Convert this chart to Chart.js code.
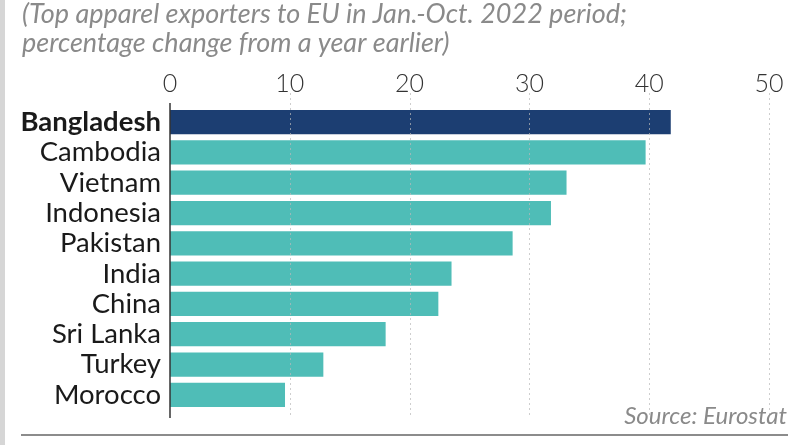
<!DOCTYPE html>
<html>
<head>
<meta charset="utf-8">
<script src="https://cdn.jsdelivr.net/npm/chart.js@4/dist/chart.umd.min.js"></script>
<style>
  html, body { margin: 0; padding: 0; background: #fff; }
  canvas { display: block; }
</style>
</head>
<body>
<canvas id="apparel-chart" width="803" height="445"></canvas>
<script>
// data
const countries = ['Bangladesh', 'Cambodia', 'Vietnam', 'Indonesia', 'Pakistan', 'India', 'China', 'Sri Lanka', 'Turkey', 'Morocco'];
const changePct = [41.8, 39.7, 33.1, 31.8, 28.6, 23.5, 22.4, 18.0, 12.8, 9.6];
const xTicks = [0, 10, 20, 30, 40, 50];
const titleLines = ['(Top apparel exporters to EU in Jan.-Oct. 2022 period;', 'percentage change from a year earlier)'];
const sourceText = 'Source: Eurostat';

const NAVY = '#1c3e72';
const TEAL = '#4fbdb7';
const FONT = 'Lato, "Open Sans", sans-serif';

// gridlines, axis line, source and rule
const decor = {
  id: 'decor',
  beforeDraw(chart) {
    const c = chart.ctx;
    c.save();
    c.fillStyle = '#fff';
    c.fillRect(0, 0, chart.width, chart.height);
    c.fillStyle = '#d6d6d6';
    c.fillRect(0, 0, 5, chart.height);
    c.restore();
  },
  afterDatasetsDraw(chart) {
    const c = chart.ctx;
    const x = chart.scales.x;
    c.save();
    c.strokeStyle = 'rgba(185,185,185,0.7)';
    c.lineWidth = 1;
    c.setLineDash([2, 3]);
    xTicks.forEach(v => {
      if (v === 0) return;
      const px = Math.round(x.getPixelForValue(v)) + 0.5;
      c.beginPath();
      c.moveTo(px, 93);
      c.lineTo(px, 418);
      c.stroke();
    });
    c.setLineDash([]);
    c.strokeStyle = '#333';
    c.lineWidth = 1.5;
    const x0 = x.getPixelForValue(0);
    c.beginPath();
    c.moveTo(x0, 103);
    c.lineTo(x0, 418);
    c.stroke();

    c.fillStyle = '#8a8a8a';
    c.font = 'italic 24px ' + FONT;
    c.textAlign = 'right';
    c.textBaseline = 'middle';
    c.fillText(sourceText, 787, 416);

    c.strokeStyle = '#666';
    c.lineWidth = 1.5;
    c.beginPath();
    c.moveTo(21, 435);
    c.lineTo(788, 435);
    c.stroke();
    c.restore();
  }
};

new Chart(document.getElementById('apparel-chart'), {
  type: 'bar',
  data: {
    labels: countries,
    datasets: [{
      data: changePct,
      backgroundColor: countries.map((_, i) => i === 0 ? NAVY : TEAL),
      borderWidth: 0,
      barPercentage: 0.8,
      categoryPercentage: 1
    }]
  },
  options: {
    indexAxis: 'y',
    responsive: false,
    animation: false,
    layout: { padding: { left: 22, right: 34, top: 0, bottom: 35 } },
    plugins: {
      legend: { display: false },
      tooltip: { enabled: false },
      title: {
        display: true,
        text: titleLines,
        align: 'start',
        color: '#8a8a8a',
        font: { family: FONT, size: 27, style: 'italic', weight: 'normal', lineHeight: 1.07 },
        padding: { top: 0, bottom: 0 }
      }
    },
    scales: {
      x: {
        position: 'top',
        min: 0,
        max: 50,
        afterBuildTicks: s => { s.ticks = xTicks.map(v => ({ value: v })); },
        afterFit: s => { s.height = 107 - 57.8; },
        grid: { display: false, drawTicks: false },
        border: { display: false },
        ticks: {
          color: '#333',
          padding: 8,
          maxRotation: 0,
          font: { family: FONT, size: 25, weight: 300 }
        }
      },
      y: {
        afterFit: s => { s.width = 170 - 22; },
        grid: { display: false, drawTicks: false },
        border: { display: false },
        ticks: {
          autoSkip: false,
          color: '#1a1a1a',
          padding: 9,
          font: ctx => ({ family: FONT, size: 27.5, weight: ctx.index === 0 ? 'bold' : 'normal' })
        }
      }
    }
  },
  plugins: [decor]
});
</script>
</body>
</html>
